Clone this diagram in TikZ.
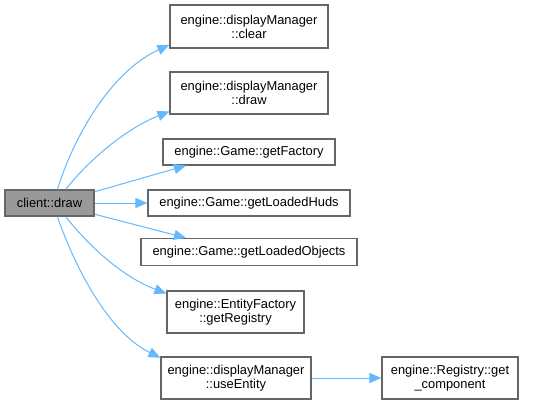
\documentclass[tikz,border=0pt]{standalone}
\usepackage{fontspec}
\setmainfont{Liberation Sans}
\usetikzlibrary{arrows.meta}
\definecolor{edgeblue}{HTML}{63B8FF}
\definecolor{boxgray}{HTML}{666666}
\definecolor{curfill}{HTML}{999999}
\begin{document}
\begin{tikzpicture}[x=1pt,y=-1pt,
  fn/.style={draw=boxgray,line width=1.2pt,fill=white,inner sep=0pt,align=center,
    font=\fontsize{12.9}{14}\selectfont},
  call/.style={draw=edgeblue,line width=1pt,-{Triangle[length=12pt,width=10pt]}}]
\useasboundingbox (0,0) rectangle (553,405);
\node[fn,fill=curfill,minimum width=89pt,minimum height=26pt] (client) at (49.5,203) {client::draw};
\node[fn,minimum width=158pt,minimum height=43pt] (clear) at (249,26.5) {engine::displayManager\\::clear};
\node[fn,minimum width=158pt,minimum height=42pt] (draw) at (249,93) {engine::displayManager\\::draw};
\node[fn,minimum width=172pt,minimum height=26pt] (fact) at (249,152) {engine::Game::getFactory};
\node[fn,minimum width=202pt,minimum height=26pt] (huds) at (249,203) {engine::Game::getLoadedHuds};
\node[fn,minimum width=216pt,minimum height=27pt] (objs) at (249,252) {engine::Game::getLoadedObjects};
\node[fn,minimum width=137pt,minimum height=42pt] (reg) at (235.5,312) {engine::EntityFactory\\::getRegistry};
\node[fn,minimum width=150pt,minimum height=42pt] (use) at (236,378) {engine::displayManager\\::useEntity};
\node[fn,minimum width=136pt,minimum height=42pt] (comp) at (450,378) {engine::Registry::get\\\_component};
\draw[call] (client.60) .. controls +(19,-60) and +(-55,25) .. (clear.193);
\draw[call] (client.40) .. controls +(22,-28) and +(-45,18) .. (draw.193);
\draw[call] (client.14) -- (fact.south west -| 186,165);
\draw[call] (client.east) -- (huds.west);
\draw[call] (client.-14) -- (objs.north west -| 186,238);
\draw[call] (client.-40) .. controls +(22,28) and +(-45,-17) .. (reg.165);
\draw[call] (client.-60) .. controls +(19,54) and +(-51,-25) .. (use.165);
\draw[call] (use.east) -- (comp.west);
\end{tikzpicture}
\end{document}
